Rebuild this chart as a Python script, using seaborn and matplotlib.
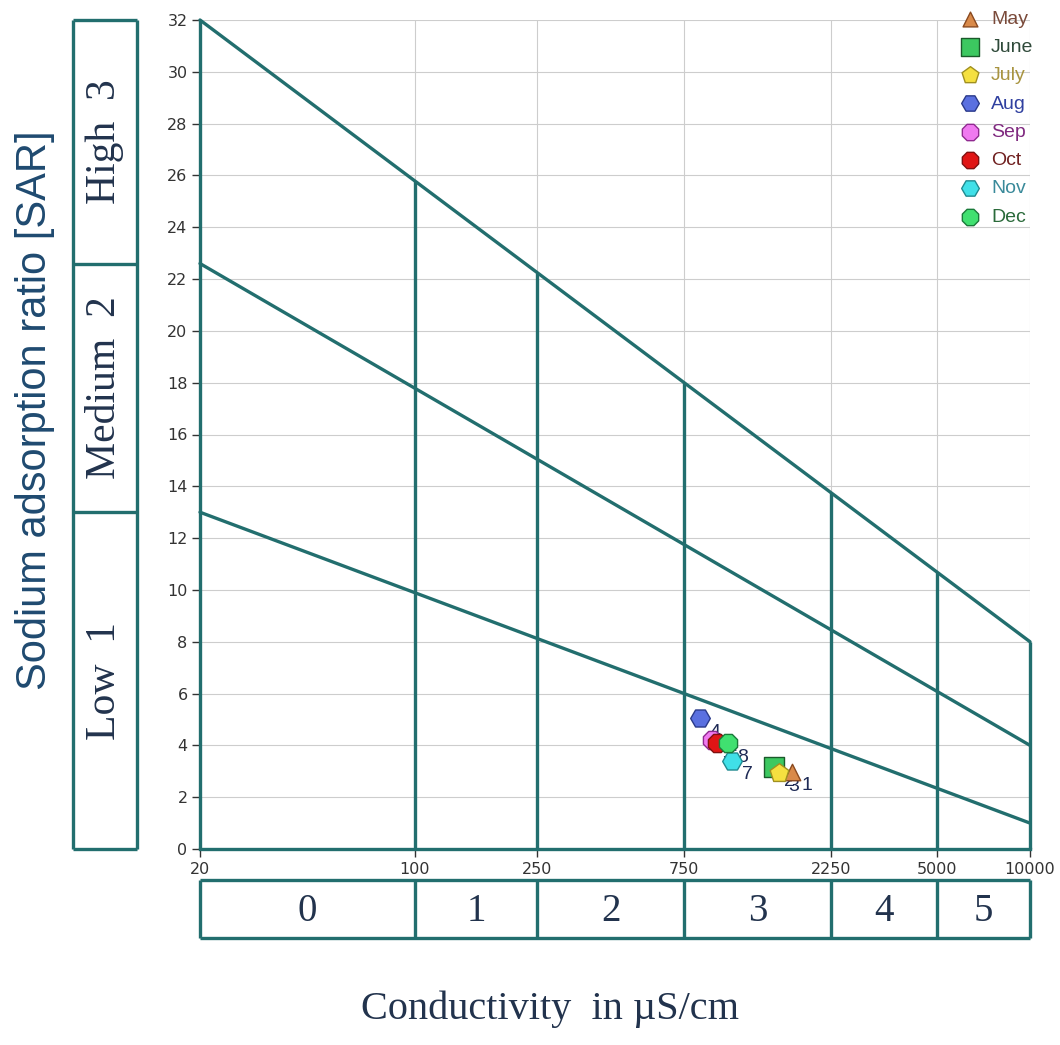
import numpy as np
import matplotlib
matplotlib.use("Agg")
import matplotlib.pyplot as plt
import seaborn as sns

# Conductivity class boundaries (µS/cm) and the class number of each interval
cond_bounds = [20, 100, 250, 750, 2250, 5000, 10000]
cond_classes = ["0", "1", "2", "3", "4", "5"]

# Sodium hazard boundary lines: SAR at 20 µS/cm and at 10000 µS/cm
line_x = [20, 10000]
sar_low_line = [13.0, 1.0]
sar_mid_line = [22.6, 4.0]
sar_high_line = [32.0, 8.0]

sodium_classes = ["Low  1", "Medium  2", "High  3"]

# Monthly water samples
months = ["May", "June", "July", "Aug", "Sep", "Oct", "Nov", "Dec"]
sample_ids = ["1", "2", "3", "4", "5", "6", "7", "8"]
conductivity = [1680, 1470, 1525, 845, 925, 960, 1072, 1040]
sar = [2.97, 3.15, 2.93, 5.05, 4.2, 4.1, 3.4, 4.08]

# Marker appearance per month
marker_shapes = ["^", "s", "p", "H", "8", "8", "H", "8"]
face_colors = ["#d98a4a", "#3cc860", "#f5e040", "#5a70e0",
               "#f07af0", "#e01515", "#40e0e8", "#40e070"]
edge_colors = ["#8a4a20", "#1a5a2a", "#a09020", "#2a3a8a",
               "#902a90", "#801010", "#208a90", "#1a7a3a"]
text_colors = ["#7a4a3a", "#2f4a3a", "#a89440", "#3040a0",
               "#802a80", "#702020", "#3a8a9a", "#2a6a3a"]

TEAL = "#226e6e"
BOX_TEXT = "#22334d"

sns.set_theme(style="whitegrid")
plt.rcParams.update({
    "font.family": ["DejaVu Sans"],
    "axes.edgecolor": TEAL,
    "grid.color": "#cdcdcd",
    "grid.linewidth": 0.8,
    "xtick.bottom": True,
    "ytick.left": True,
    "xtick.major.size": 6,
    "ytick.major.size": 6,
    "xtick.color": "#333333",
    "ytick.color": "#333333",
})

W, H = 1060, 1045
fig = plt.figure(figsize=(W / 100, H / 100), dpi=100)
fig.patch.set_facecolor("white")

ax = fig.add_axes([200 / W, 1 - 849 / H, 830 / W, 829 / H])
ax.set_xscale("log")
ax.set_xlim(cond_bounds[0], cond_bounds[-1])
ax.set_ylim(0, 32)
ax.set_facecolor("white")

# Diagonal sodium-hazard boundaries
for vals in (sar_low_line, sar_mid_line, sar_high_line):
    sns.lineplot(x=line_x, y=vals, color=TEAL, linewidth=2.4, ax=ax,
                 zorder=3, clip_on=False)

# Vertical salinity boundaries, each rising to the top hazard line
log_x = np.log10(line_x)
tops = np.interp(np.log10(cond_bounds), log_x, sar_high_line)
ax.vlines(cond_bounds, 0, tops, color=TEAL, linewidth=2.4, zorder=3,
          clip_on=False)

# Samples; the sample numbers sit underneath the markers
for i, m in enumerate(months):
    sns.scatterplot(x=[conductivity[i]], y=[sar[i]], marker=marker_shapes[i],
                    s=200 if marker_shapes[i] != "^" else 140,
                    color=face_colors[i], edgecolor=edge_colors[i],
                    linewidth=1.0, label=m, ax=ax, zorder=10 + i)
    ax.annotate(sample_ids[i], (conductivity[i], sar[i]),
                xytext=(11, -10), textcoords="offset points",
                ha="center", va="center", fontsize=14,
                family=["Liberation Sans"], color="#1e2a55", zorder=6)

# Axes styling
ax.set_xticks(cond_bounds)
ax.set_xticklabels([str(v) for v in cond_bounds])
ax.xaxis.set_minor_locator(matplotlib.ticker.NullLocator())
ax.set_yticks(np.arange(0, 33, 2))
ax.tick_params(axis="both", labelsize=11.5, width=1, pad=3)
ax.grid(True, which="major")
for side in ("top", "right", "left"):
    ax.spines[side].set_visible(False)
ax.spines["bottom"].set_color(TEAL)
ax.spines["bottom"].set_linewidth(2.4)
ax.spines["bottom"].set_zorder(4)

ax.set_ylabel("Sodium adsorption ratio [SAR]", fontsize=30,
              family=["Liberation Sans"], color="#1f4a70")
ax.yaxis.set_label_coords((55 - 200) / 830, (849 - 410) / 829)
ax.set_xlabel("Conductivity  in µS/cm", fontsize=29,
              family=["Liberation Serif"], color=BOX_TEXT)
ax.xaxis.set_label_coords((550 - 200) / 830, (849 - 991) / 829)

# Legend without frame, text tinted per month
leg = ax.legend(loc="upper left", bbox_to_anchor=(960 / W, 1 - 10 / H),
                bbox_transform=fig.transFigure, frameon=False,
                prop={"family": "Liberation Sans", "size": 14},
                handlelength=1.0, handletextpad=0.6, labelspacing=0.55,
                borderpad=0, borderaxespad=0, markerscale=0.9)
for txt, c in zip(leg.get_texts(), text_colors):
    txt.set_color(c)

# Sodium class boxes on the left
sbox = fig.add_axes([73 / W, 1 - 849 / H, 64 / W, 829 / H])
sbox.set_xlim(0, 1)
sbox.set_ylim(0, 32)
sbox.axis("off")
s_edges = [0, sar_low_line[0], sar_mid_line[0], sar_high_line[0]]
sbox.vlines([0, 1], 0, s_edges[-1], color=TEAL, linewidth=2.4, clip_on=False)
sbox.hlines(s_edges, 0, 1, color=TEAL, linewidth=2.4, clip_on=False)
for lab, lo, hi in zip(sodium_classes, s_edges[:-1], s_edges[1:]):
    sbox.text(0.5, (lo + hi) / 2, lab, rotation=90, ha="center", va="center",
              fontsize=30, family=["Liberation Serif"], color=BOX_TEXT)

# Salinity class boxes below
cbox = fig.add_axes([200 / W, 1 - 938 / H, 830 / W, 58 / H])
cbox.set_xscale("log")
cbox.set_xlim(cond_bounds[0], cond_bounds[-1])
cbox.set_ylim(0, 1)
cbox.axis("off")
cbox.vlines(cond_bounds, 0, 1, color=TEAL, linewidth=2.4, clip_on=False)
cbox.hlines([0, 1], cond_bounds[0], cond_bounds[-1], color=TEAL,
            linewidth=2.4, clip_on=False)
for lab, lo, hi in zip(cond_classes, cond_bounds[:-1], cond_bounds[1:]):
    cbox.text(np.sqrt(lo * hi), 0.45, lab, ha="center", va="center",
              fontsize=28, family=["Liberation Serif"], color=BOX_TEXT)

fig.savefig("out.png", dpi=100, facecolor="white")
